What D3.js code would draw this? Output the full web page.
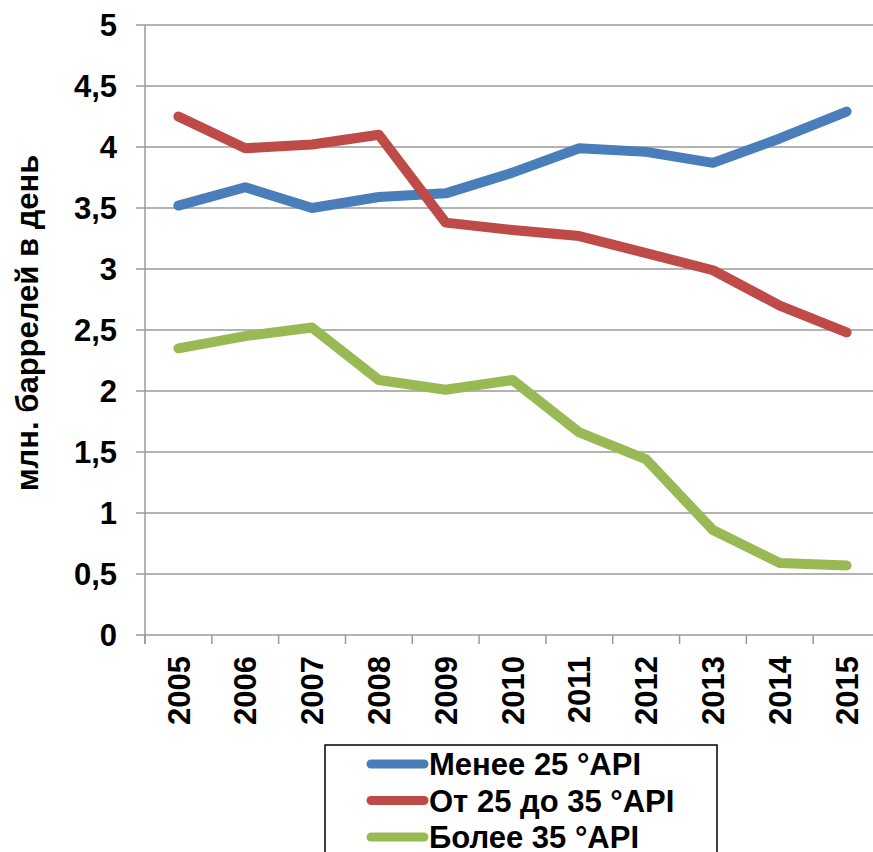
<!DOCTYPE html>
<html><head><meta charset="utf-8">
<script src="https://cdn.jsdelivr.net/npm/d3@7"></script>
<style>html,body{margin:0;padding:0;background:#fff;overflow:hidden}</style>
</head><body>
<script>
const years = ["2005","2006","2007","2008","2009","2010","2011","2012","2013","2014","2015"];
const seriesNames = ["Менее 25 °API","От 25 до 35 °API","Более 35 °API"];
const below25 = [3.52,3.67,3.50,3.59,3.62,3.79,3.99,3.96,3.87,4.07,4.29];
const from25to35 = [4.25,3.99,4.02,4.10,3.38,3.32,3.27,3.13,2.99,2.70,2.48];
const above35 = [2.35,2.45,2.52,2.09,2.01,2.09,1.66,1.44,0.86,0.59,0.57];
const yTicks = [0,0.5,1,1.5,2,2.5,3,3.5,4,4.5,5];
const colors = ["#4A7EBB","#BE4B48","#98B954"];
const yTitle = "млн. баррелей в день";

const W = 873, H = 852;
const svg = d3.select("body").append("svg").attr("width", W).attr("height", H);
const font = "'Liberation Sans', Arial, sans-serif";

const x = d3.scaleBand().domain(years).range([145, 880]);
const y = d3.scaleLinear().domain([0,5]).range([635, 25]);

// gridlines
svg.append("g").selectAll("line").data(yTicks).join("line")
  .attr("x1", 136).attr("x2", 880)
  .attr("y1", d => y(d)).attr("y2", d => y(d))
  .attr("stroke", "#9a9a9a").attr("stroke-width", 1.5);

// y axis line
svg.append("line").attr("x1",145).attr("x2",145).attr("y1",y(5)).attr("y2",y(0)+9)
  .attr("stroke","#9a9a9a").attr("stroke-width",1.5);

// x ticks
const xt = years.map(d => x(d)).concat([x.range()[1]]);
svg.append("g").selectAll("line").data(xt).join("line")
  .attr("x1", d => d).attr("x2", d => d).attr("y1", y(0)).attr("y2", y(0)+9)
  .attr("stroke","#9a9a9a").attr("stroke-width",1.5);

// y tick labels
svg.append("g").selectAll("text").data(yTicks).join("text")
  .attr("x", 117).attr("y", d => y(d)).attr("dy","0.36em")
  .attr("text-anchor","end").attr("font-family",font).attr("font-weight","bold")
  .attr("font-size",31).attr("fill","#000")
  .text(d => String(d).replace(".", ","));

// x labels rotated
svg.append("g").selectAll("text").data(years).join("text")
  .attr("transform", d => `translate(${x(d)+x.bandwidth()/2},656) rotate(-90)`)
  .attr("text-anchor","end").attr("dy","0.36em")
  .attr("font-family",font).attr("font-weight","bold").attr("font-size",31).attr("fill","#000")
  .text(d => d);

// y title
svg.append("text").attr("transform","translate(27,323) rotate(-90)")
  .attr("text-anchor","middle").attr("dy","0.36em")
  .attr("font-family",font).attr("font-weight","bold").attr("font-size",31).attr("fill","#000")
  .text(yTitle);

// lines
const data = [below25, from25to35, above35];
const line = d3.line().x((d,i) => x(years[i]) + x.bandwidth()/2).y(d => y(d));
svg.append("g").selectAll("path").data(data).join("path")
  .attr("d", line).attr("fill","none")
  .attr("stroke", (d,i) => colors[i]).attr("stroke-width",10)
  .attr("stroke-linecap","round").attr("stroke-linejoin","round");

// legend
const lg = svg.append("g");
lg.append("rect").attr("x",325).attr("y",745).attr("width",392).attr("height",120)
  .attr("fill","#fff").attr("stroke","#000").attr("stroke-width",1.5);
seriesNames.forEach((n,i) => {
  const cy = 764 + i*36.5;
  lg.append("line").attr("x1",371).attr("x2",424).attr("y1",cy).attr("y2",cy)
    .attr("stroke",colors[i]).attr("stroke-width",9).attr("stroke-linecap","round");
  lg.append("text").attr("x",429).attr("y",cy).attr("dy","0.36em")
    .attr("font-family",font).attr("font-weight","bold").attr("font-size",31).attr("fill","#000")
    .text(n);
});
</script>
</body></html>
